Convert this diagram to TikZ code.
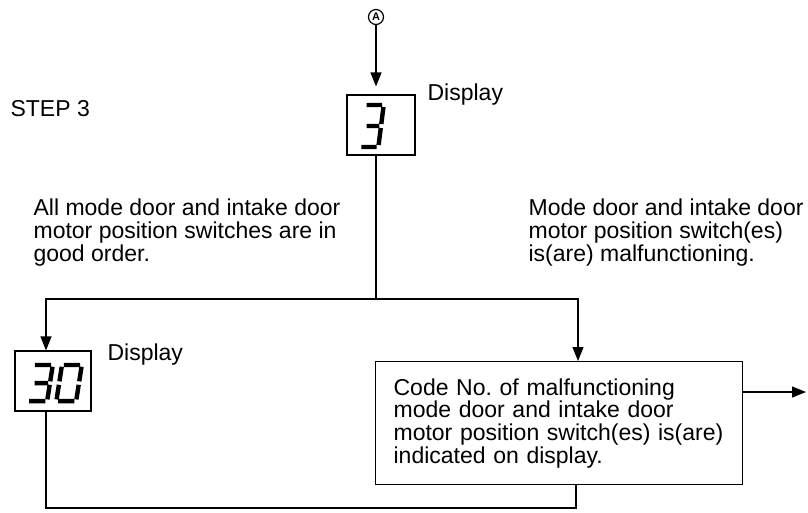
\documentclass[tikz,border=0pt]{standalone}
\usepackage{fontspec}
\setmainfont{Liberation Sans}
\usetikzlibrary{positioning, calc, arrows.meta}

\begin{document}
\begin{tikzpicture}[x=1pt, y=-1pt, line width=1.2pt,
    arr/.style={-{Triangle[width=11pt,length=14pt]}},
    dispbox/.style={draw, minimum width=#1, minimum height=60pt, inner sep=0pt},
    txt/.style={font=\fontsize{23}{22.7}\selectfont\frenchspacing, inner sep=0pt, align=left},
    seg/.style={line width=4.4pt, line cap=butt},
    digit three/.pic={
        \draw[seg, xslant=0.15] (2,0) -- (20,0) (22,2) -- (22,19) (5,21) -- (20,21)
            (22,23) -- (22,40) (2,42) -- (20,42);
    },
    digit zero/.pic={
        \draw[seg, xslant=0.15] (2,0) -- (20,0) (0,2) -- (0,19) (0,23) -- (0,40)
            (2,42) -- (20,42) (22,2) -- (22,19) (22,23) -- (22,40);
    }]
    \useasboundingbox (0,0) rectangle (808,512);

    % Entry point and first display
    \node[draw, circle, minimum size=15pt, inner sep=0pt, line width=1.2pt,
          font=\fontsize{11}{11}\selectfont\bfseries] (circA) at (376,17) {A};
    \node[dispbox=68pt] (disp3) at (381,125) {};
    \pic[xscale=0.85] at (365,105) {digit three};
    \node[txt, anchor=base west] (lbl3) at (427,100) {Display};
    \node[txt, anchor=base west] (step) at (10,116) {STEP 3};

    % Branch texts
    \node[txt, anchor=north west] (goodtxt) at (33,198.5)
        {All mode door and intake door\\motor position switches are in\\good order.};
    \node[txt, anchor=north west] (badtxt) at (528,198.5)
        {Mode door and intake door\\motor position switch(es)\\is(are) malfunctioning.};

    % Result boxes
    \node[dispbox=76pt] (disp30) at (53,381) {};
    \pic[xscale=0.9, yscale=0.86] at (33,365) {digit three};
    \pic[xscale=0.9, yscale=0.86] at (62,365) {digit zero};
    \node[txt, anchor=base west] (lbl30) at (107,360) {Display};
    \node[draw, txt, text width=331pt, inner xsep=18pt, minimum height=123pt,
          anchor=north west] (codebox) at (375,361)
        {Code No. of malfunctioning\\mode door and intake door\\motor position switch(es) is(are)\\indicated on display.};

    % Connectors
    \coordinate (forkL) at (46,299);
    \coordinate (forkR) at (578,299);
    \coordinate (loopL) at (46,508);
    \coordinate (loopR) at (576,508);
    \coordinate (exit) at (806,392);
    \draw[arr, shorten >=8pt] (circA) -- (circA |- disp3.north);
    \draw (disp3.south -| circA) -- (circA |- forkL);
    \draw[arr] (circA |- forkL) -- (forkL) -- (forkL |- disp30.north);
    \draw[arr] (circA |- forkR) -- (forkR) -- (forkR |- codebox.north);
    \draw (disp30.south -| loopL) -- (loopL) -- (loopR) -- (loopR |- codebox.south);
    \draw[arr] (codebox.east |- exit) -- (exit);
\end{tikzpicture}
\end{document}
